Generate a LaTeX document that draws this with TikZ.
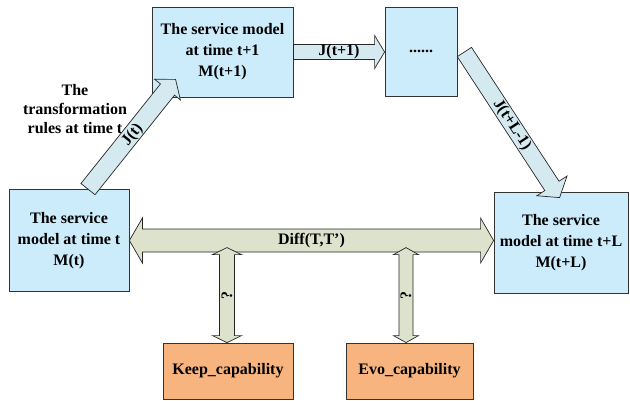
\documentclass[tikz,border=0pt]{standalone}
\usepackage{fontspec}
\setmainfont{Liberation Serif}
\usetikzlibrary{calc}

\definecolor{modelblue}{RGB}{204,236,252}
\definecolor{rulecyan}{RGB}{213,234,240}
\definecolor{diffgreen}{RGB}{221,226,204}
\definecolor{capaorange}{RGB}{247,180,126}

% block arrow: [style]{name}{from}{to}{shaft half width}{head half width}{head length}
\newcommand{\blockarr}[7][]{%
  \coordinate (#2-b) at ($(#4)!#7!(#3)$);
  \draw[#1] ($(#3)!#5!90:(#4)$) -- ($(#2-b)!#5!90:(#4)$) -- ($(#2-b)!#6!90:(#4)$)
    -- (#4) -- ($(#2-b)!#6!-90:(#4)$) -- ($(#2-b)!#5!-90:(#4)$)
    -- ($(#3)!#5!-90:(#4)$) -- cycle;
}
% same with a head at both ends
\newcommand{\dblarr}[7][]{%
  \coordinate (#2-a) at ($(#3)!#7!(#4)$);
  \coordinate (#2-b) at ($(#4)!#7!(#3)$);
  \draw[#1] (#3) -- ($(#2-a)!#6!90:(#4)$) -- ($(#2-a)!#5!90:(#4)$)
    -- ($(#2-b)!#5!90:(#4)$) -- ($(#2-b)!#6!90:(#4)$) -- (#4)
    -- ($(#2-b)!#6!-90:(#4)$) -- ($(#2-b)!#5!-90:(#4)$)
    -- ($(#2-a)!#5!-90:(#4)$) -- ($(#2-a)!#6!-90:(#4)$) -- cycle;
}

\begin{document}
\begin{tikzpicture}[x=1pt,y=-1pt]
		\tikzset{model/.style = {draw=black!80, fill=modelblue, line width=0.8pt, align=center, inner sep=2pt},
		capa/.style = {draw=black!80, fill=capaorange, line width=0.8pt, minimum height=56pt},
		rule/.style = {draw=black!85, fill=rulecyan, line width=0.7pt, line join=miter},
		diff/.style = {draw=black!85, fill=diffgreen, line width=0.7pt, line join=miter},
		lbl/.style = {inner sep=0pt}}
		\useasboundingbox (0,0) rectangle (630,400);
		\begin{scope}[font=\fontsize{16}{21}\selectfont\bfseries]

		\node[model, minimum width=141pt, minimum height=90pt] (M_1) at (222.5,52) {The service model\\at time t+1\\M(t+1)};
		\node[model, minimum width=72pt, minimum height=89pt] (M_dots) at (421,51.5) {......};
		\node[model, minimum width=120pt, minimum height=102pt] (M_0) at (69,240.5) {The service\\model at time t\\M(t)};
		\node[model, minimum width=134pt, minimum height=101pt] (M_L) at (561,242.5) {The service\\model at time t+L\\M(t+L)};

		\node[capa, minimum width=130pt] (keep) at (228,371) {Keep\_capability};
		\node[capa, minimum width=127pt] (evo) at (409.5,371) {Evo\_capability};

		\node[align=center, font=\fontsize{16}{19}\selectfont\bfseries] (rules) at (75,109) {The\\transformation\\rules at time t};

		% transformation arrows
		\coordinate (J_0s) at ($(M_0.north)+(19,0)$);
		\coordinate (J_0e) at ($(M_1.south west)+(24,-18)$);
		\coordinate (J_1s) at (M_1.east);
		\coordinate (J_1e) at (M_1.east -| M_dots.west);
		\coordinate (J_Ls) at ($(M_dots.east)+(7,0.5)$);
		\coordinate (J_Le) at ($(M_L.north west)+(66,6)$);

		\blockarr[rule]{J_0}{J_0s}{J_0e}{9pt}{16.5pt}{13pt}
		\blockarr[rule]{J_1}{J_1s}{J_1e}{7.5pt}{16.5pt}{10pt}
		\blockarr[rule]{J_L}{J_Ls}{J_Le}{8.5pt}{18pt}{14pt}

		\path (J_0s) -- (J_0e) node[midway, sloped, lbl, yshift=-1pt] (J_0l) {J(t)};
		\path (J_1s) -- (J_1e) node[midway, lbl] (J_1l) {J(t+1)};
		\path (J_Ls) -- (J_Le) node[midway, sloped, lbl] (J_Ll) {J(t+L-1)};

		% difference between the two models
		\coordinate (D_s) at (M_0.east);
		\coordinate (D_e) at (M_0.east -| M_L.west);
		\dblarr[diff]{D}{D_s}{D_e}{11.5pt}{22.5pt}{13pt}
		\path (D_s) -- (D_e) node[midway, lbl] (D_l) {Diff(T,T’)};

		% links down to the capabilities
		\coordinate (K_s) at ($(keep.north)+(-1,-95)$);
		\coordinate (K_e) at ($(keep.north)+(-1,0)$);
		\coordinate (E_s) at ($(evo.north)+(-3.5,-95)$);
		\coordinate (E_e) at ($(evo.north)+(-3.5,0)$);
		\dblarr[diff]{K}{K_s}{K_e}{7.5pt}{14.5pt}{7pt}
		\dblarr[diff]{E}{E_s}{E_e}{7pt}{12.5pt}{7pt}
		\path (K_s) -- (K_e) node[midway, lbl, rotate=90] (K_l) {?};
		\path (E_s) -- (E_e) node[midway, lbl, rotate=90] (E_l) {?};

		\end{scope}
	\end{tikzpicture}
\end{document}
